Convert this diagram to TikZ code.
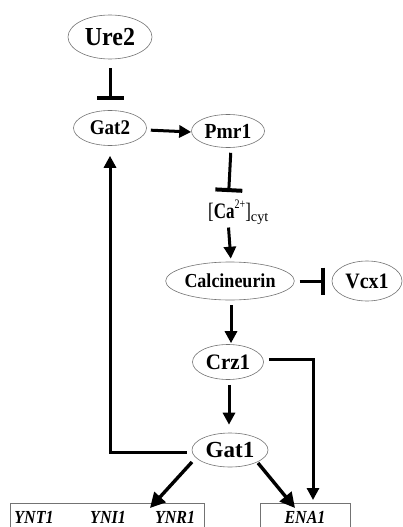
\documentclass[tikz,border=0pt]{standalone}
\usepackage{fontspec}
\setmainfont{Liberation Serif}
\usetikzlibrary{shapes.geometric,arrows.meta}
\newcommand{\genetxt}[1]{\scalebox{1}[1.15]{#1}}
\begin{document}
\begin{tikzpicture}[x=1pt,y=-1pt,
  ell/.style={ellipse,draw=black!55,line width=0.6pt,inner sep=0pt,font=\bfseries},
  arr/.style={line width=3pt,-{Triangle[length=12pt,width=12pt]}},
  bigarr/.style={line width=3.4pt,-{Triangle[length=15pt,width=15pt]}},
  inh/.style={line width=3pt,-{Bar[width=27pt,line width=4pt]}},
  genebox/.style={rectangle,draw=black!55,line width=0.6pt,inner sep=0pt,minimum height=30pt,anchor=north},
  genelabel/.style={inner sep=0pt,anchor=base,font=\fontsize{16}{16}\selectfont\bfseries\itshape}]
\useasboundingbox (0,0) rectangle (403,527);
\node[ell,minimum width=84pt,minimum height=44pt,font=\fontsize{24}{24}\selectfont\bfseries] (ure2) at (110,37) {\scalebox{1}[1.08]{Ure2}};
\node[ell,minimum width=73pt,minimum height=35pt,font=\fontsize{19}{19}\selectfont\bfseries] (gat2) at (110,128) {\scalebox{1}[1.1]{Gat2}};
\node[ell,minimum width=73pt,minimum height=33pt,font=\fontsize{19.5}{19.5}\selectfont\bfseries] (pmr1) at (228,131) {\scalebox{1}[1.1]{Pmr1}};
\node[inner sep=0pt,anchor=base west] (ca) at (208,218) {\scalebox{1}[1.3]{\fontsize{17}{17}\selectfont[\textbf{Ca}\raisebox{7pt}{\fontsize{10}{10}\selectfont 2+}]\raisebox{-2.5pt}{\scalebox{1.3}[1]{\fontsize{11}{11}\selectfont cyt}}}};
\node[ell,minimum width=115pt,minimum height=38pt,font=\fontsize{18}{18}\selectfont\bfseries] (calc) at (230,281) {\scalebox{1}[1.1]{Calcineurin}};
\node[ell,minimum width=70pt,minimum height=40pt,font=\fontsize{20}{20}\selectfont\bfseries] (vcx1) at (367,281) {\scalebox{1}[1.1]{Vcx1}};
\node[ell,minimum width=71pt,minimum height=35pt,font=\fontsize{21}{21}\selectfont\bfseries] (crz1) at (228,362) {\scalebox{1}[1.05]{Crz1}};
\node[ell,minimum width=76pt,minimum height=34pt,font=\fontsize{23}{23}\selectfont\bfseries] (gat1) at (230,450) {Gat1};
\node[genebox,minimum width=194pt] (ynbox) at (107,503) {};
\node[genebox,minimum width=90pt] (ena1) at (305,503) {};
\node[genelabel] (ynt1) at (34,523) {\genetxt{YNT1}};
\node[genelabel] (yni1) at (108,523) {\genetxt{YNI1}};
\node[genelabel] (ynr1) at (175,523) {\genetxt{YNR1}};
\node[genelabel] (enatxt) at (305,523) {\genetxt{ENA1}};
% connectors
\draw[inh,shorten <=9pt,shorten >=10pt] (ure2.south) -- (gat2.north);
\draw[arr,shorten <=4pt] ([yshift=-2pt]gat2.east) -- ([yshift=-1pt]pmr1.west);
\draw[inh,shorten <=5pt,shorten >=8pt] ([xshift=3pt]pmr1.south) -- ([xshift=-10pt]ca.north);
\draw[arr,shorten <=3pt,shorten >=3pt] ([xshift=-10pt]ca.south) -- ([xshift=1pt]calc.north);
\draw[inh,shorten <=5pt,shorten >=7pt] (calc.east) -- (vcx1.west);
\draw[arr,shorten <=5pt,shorten >=1pt] ([xshift=1pt]calc.south) -- ([xshift=3pt]crz1.north);
\draw[arr,shorten <=5pt,shorten >=8pt] ([xshift=1pt]crz1.south) -- ([xshift=-1pt]gat1.north);
\draw[arr,shorten >=3pt] ([xshift=5pt,yshift=3pt]crz1.east) -| ([xshift=8pt]ena1.north);
\draw[arr,shorten >=10pt] ([xshift=-5pt,yshift=-2pt]gat1.west) -| (gat2.south);
\draw[bigarr] ([xshift=-38pt,yshift=-12pt]gat1.center) -- ([xshift=43pt,yshift=-5pt]ynbox.north);
\draw[bigarr] ([xshift=28pt,yshift=-13pt]gat1.center) -- ([xshift=-10pt,yshift=-5pt]ena1.north);
\end{tikzpicture}
\end{document}
